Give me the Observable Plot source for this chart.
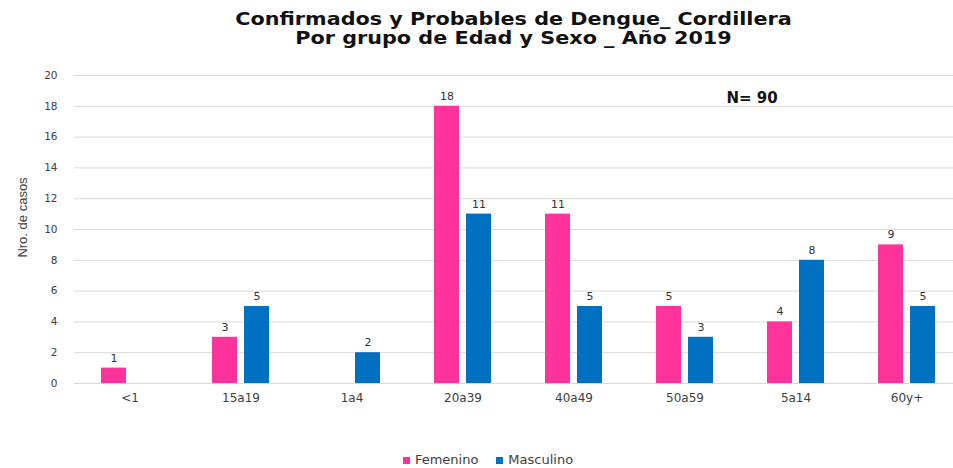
<!DOCTYPE html>
<html><head><meta charset="utf-8">
<script src="https://cdn.jsdelivr.net/npm/d3@7"></script>
<script src="https://cdn.jsdelivr.net/npm/@observablehq/plot@0.6"></script>
<style>
html,body{margin:0;padding:0;background:#fff;overflow:hidden;width:953px;height:468px}
#title{position:absolute;left:37px;top:10px;width:953px;text-align:center;font:bold 17px/19px "DejaVu Sans",sans-serif;color:#111;transform:scaleX(1.22);transform-origin:476.5px 0}
#chart{position:absolute;left:0;top:60px}
#legend{position:absolute;top:451px;left:5px;width:966px;display:flex;justify-content:center;align-items:center;font:13px/18px "DejaVu Sans",sans-serif;color:#404040}
#legend .item{display:flex;align-items:center;margin:0 9px}
#legend .sw{width:7px;height:7px;margin-right:5px}
</style></head><body>
<div id="title">Confirmados y Probables de Dengue_ Cordillera<br>Por grupo de Edad y Sexo _ Año 2019</div>
<div id="chart"></div>
<div id="legend"></div>
<script>
const categories = ["<1","15a19","1a4","20a39","40a49","50a59","5a14","60y+"];
const femenino = [1,3,null,18,11,5,4,9];
const masculino = [null,5,2,11,5,3,8,5];
const series = ["Femenino","Masculino"];
const colors = ["#FF3399","#0070C0"];
const yTicks = [0,2,4,6,8,10,12,14,16,18,20];
const yLabel = "Nro. de casos";
const nLabel = "N= 90";

const data = categories.flatMap((c,i)=>[
  {cat:c, sex:series[0], value:femenino[i]},
  {cat:c, sex:series[1], value:masculino[i]}
]).filter(d=>d.value!=null);

const chart = Plot.plot({
  width: 966, height: 353,
  marginLeft: 70, marginRight: 1, marginTop: 15, marginBottom: 30,
  style: {fontFamily:"DejaVu Sans, sans-serif", fontSize:"11px", color:"#404040", background:"transparent", maxWidth:"none"},
  fx: {domain: categories, padding: 0, label: null},
  x: {domain: series, paddingInner: 0.21, paddingOuter: 0.82, axis: null},
  y: {domain: [0,20], label: null},
  color: {domain: series, range: colors},
  marks: [
    Plot.gridY(yTicks, {stroke:"#d9d9d9", strokeOpacity:1}),
    Plot.axisY(yTicks, {tickSize:0, tickPadding:17, label:null, fontSize:10.5}),
    Plot.axisFx({anchor:"bottom", tickSize:0, tickPadding:10, label:null, fontSize:12}),
    Plot.barY(data, {fx:"cat", x:"sex", y:"value", fill:"sex"}),
    Plot.text(data, {fx:"cat", x:"sex", y:"value", text:"value", dy:-10, fontSize:11, fill:"#333"}),
    Plot.text([yLabel], {fx:()=>categories[0], frameAnchor:"left", textAnchor:"middle", text:d=>d, rotate:-90, dx:-52, dy:-12, fontFamily:"Liberation Sans Narrow, sans-serif", fontSize:13, fill:"#404040"}),
    Plot.text([nLabel], {fx:()=>categories[6], x:()=>series[0], y:()=>18.55, text:d=>d, dx:-28, fontWeight:"bold", fontSize:15, fill:"#111"})
  ]
});
document.getElementById("chart").appendChild(chart);

const legend = document.getElementById("legend");
series.forEach((s,i)=>{
  const item = document.createElement("div"); item.className="item";
  const sw = document.createElement("span"); sw.className="sw"; sw.style.background = colors[i];
  const t = document.createElement("span"); t.textContent = s;
  item.appendChild(sw); item.appendChild(t); legend.appendChild(item);
});
</script>
</body></html>
